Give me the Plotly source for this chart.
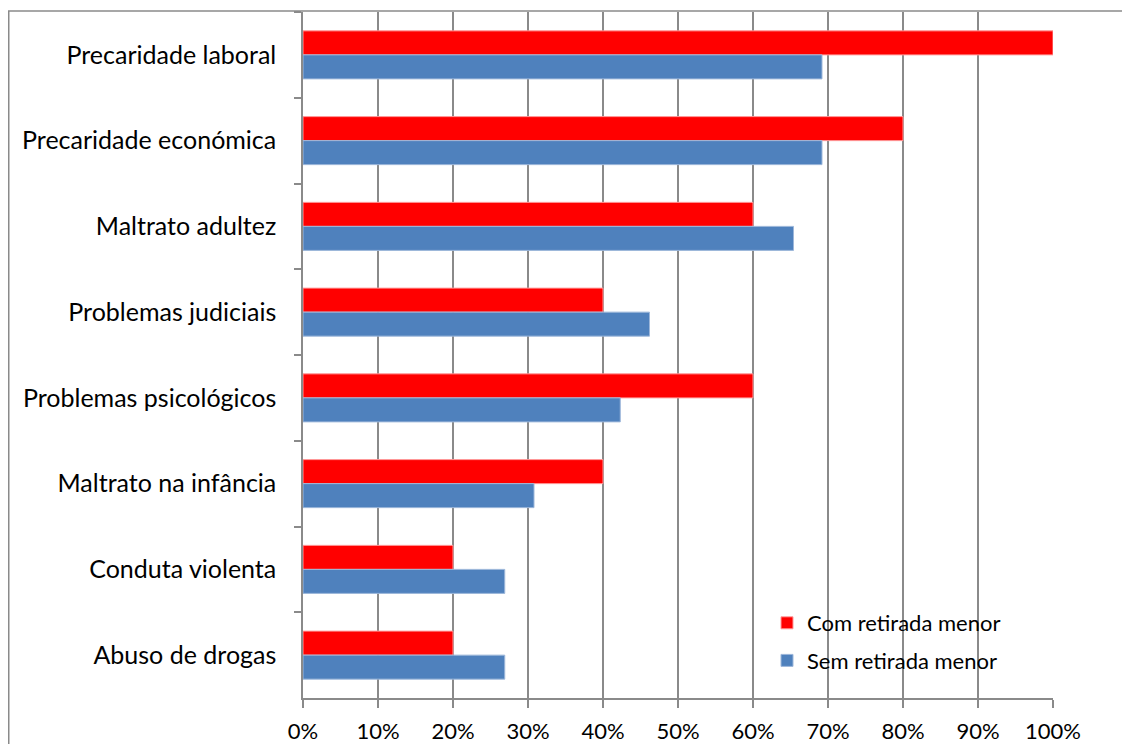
import plotly.graph_objects as go

categories = ["Precaridade laboral", "Precaridade económica", "Maltrato adultez",
              "Problemas judiciais", "Problemas psicológicos", "Maltrato na infância",
              "Conduta violenta", "Abuso de drogas"]
com_retirada = [100, 80, 60, 40, 60, 40, 20, 20]
sem_retirada = [69.2, 69.2, 65.4, 46.2, 42.3, 30.8, 26.9, 26.9]
series_names = ["Com retirada menor", "Sem retirada menor"]
x_ticks = list(range(0, 101, 10))
x_tick_labels = [f"{v}%" for v in x_ticks]

# page offset from default body margin
OX, OY = 8, 8
W, H = 1130 - OX, 744 - OY
L, R, T, B = 303 - OX, 77, 12 - OY, 46
pw = W - L - R
ph = H - T - B


def px_x(p):
    return (p - OX - L) / pw


def px_y(p):
    return (H - B - (p - OY)) / ph


FONT = "Lato"
GRID = "#8a8a8a"

fig = go.Figure()
fig.add_trace(go.Bar(y=categories, x=com_retirada, name=series_names[0], orientation="h",
                     marker=dict(color="#FF0000", line=dict(color="#FF9A9A", width=1)),
                     legendgroup="a"))
fig.add_trace(go.Bar(y=categories, x=sem_retirada, name=series_names[1], orientation="h",
                     marker=dict(color="#4F81BD", line=dict(color="#9DB7DA", width=1)),
                     legendgroup="b"))

fig.update_layout(
    width=W, height=H,
    margin=dict(l=L, r=R, t=T, b=B, pad=0, autoexpand=False),
    paper_bgcolor="white", plot_bgcolor="white",
    barmode="group", bargap=0.44, bargroupgap=0,
    font=dict(family=FONT, size=22, color="#000000"),
    showlegend=True,
    legend=dict(x=px_x(767), y=px_y(602), xanchor="left", yanchor="top",
                bgcolor="rgba(0,0,0,0)", borderwidth=0, tracegroupgap=6,
                traceorder="grouped", font=dict(family=FONT, size=22)),
    xaxis=dict(range=[0, 100], tickmode="array", tickvals=x_ticks, ticktext=x_tick_labels,
               tickfont=dict(family=FONT, size=22),
               showgrid=True, gridcolor=GRID, gridwidth=1.5,
               showline=True, linecolor=GRID, linewidth=1.5,
               ticks="outside", ticklen=8, tickwidth=1.5, tickcolor=GRID,
               ticklabelstandoff=5, zeroline=False, fixedrange=True),
    yaxis=dict(autorange="reversed", type="category", tickson="boundaries",
               tickfont=dict(family=FONT, size=25),
               showgrid=False, showline=True, linecolor=GRID, linewidth=1.5,
               ticks="outside", ticklen=7, tickwidth=1.5, tickcolor=GRID,
               ticklabelstandoff=20, zeroline=False, fixedrange=True),
    shapes=[
        dict(type="rect", xref="paper", yref="paper",
             x0=px_x(8.75), x1=px_x(1400), y0=px_y(11), y1=px_y(1000),
             line=dict(color=GRID, width=1.5), fillcolor="rgba(0,0,0,0)", layer="above"),
        dict(type="rect", xref="paper", yref="paper",
             x0=px_x(745), x1=px_x(1048), y0=px_y(682), y1=px_y(603),
             line=dict(width=0), fillcolor="white", layer="between"),
    ],
)

fig.write_html("out.html")
